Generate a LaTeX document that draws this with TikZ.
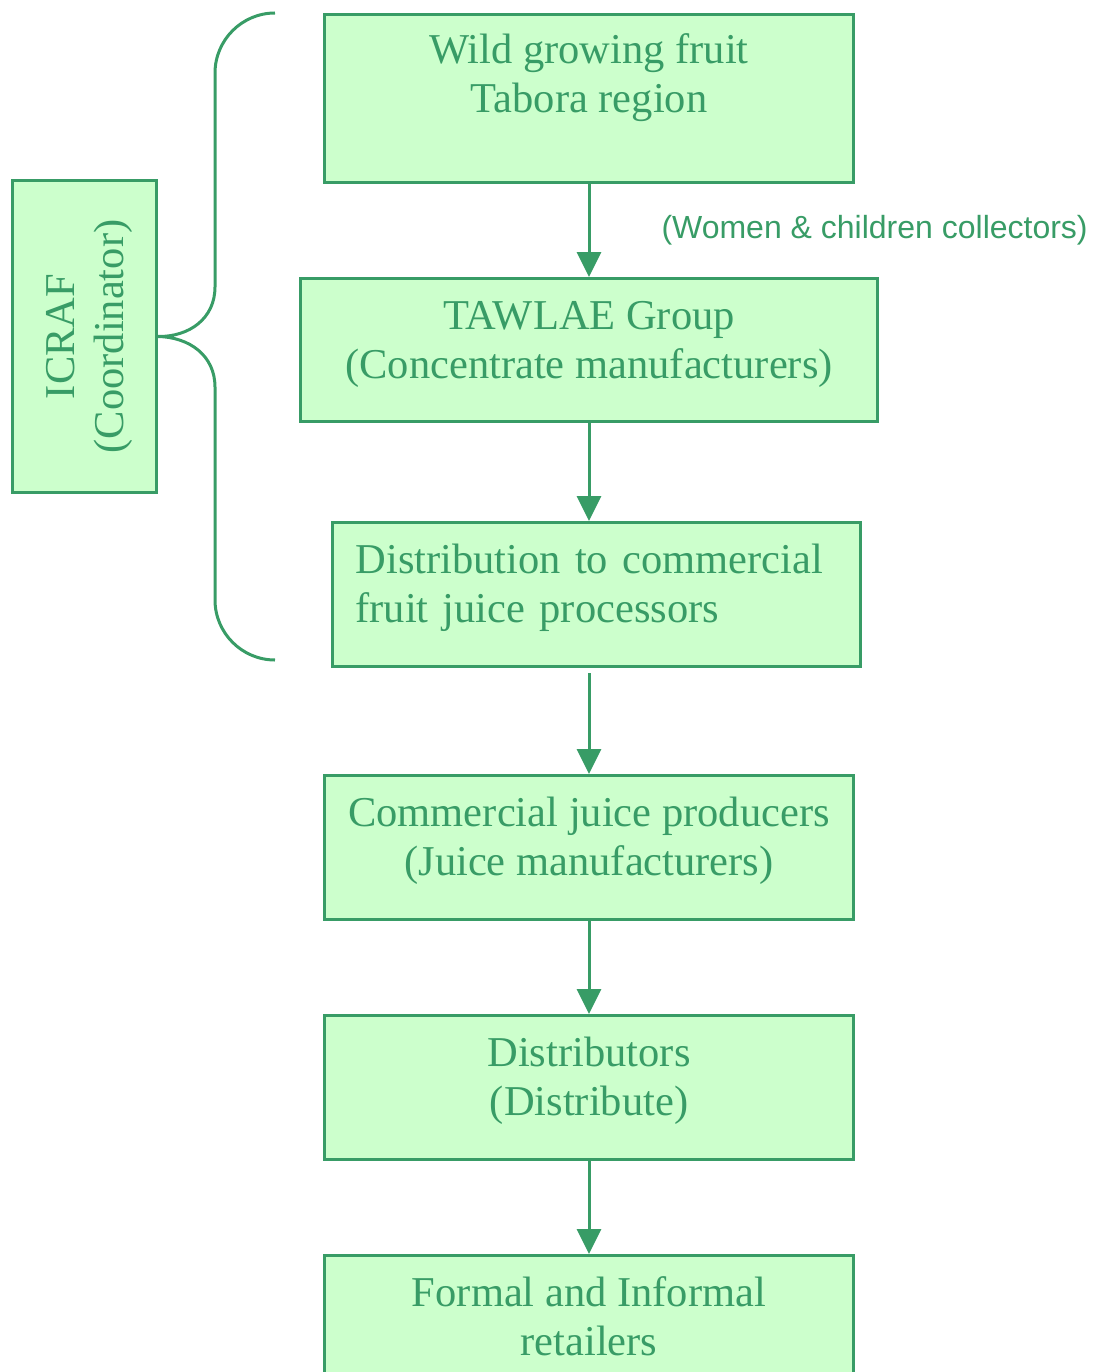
\documentclass[tikz,border=0pt]{standalone}
\usepackage{fontspec}
\setmainfont{Liberation Serif}
\newfontfamily\labelfont{Liberation Sans}
\usetikzlibrary{arrows.meta}
\definecolor{chainline}{HTML}{389C66}
\definecolor{chainfill}{HTML}{CCFFCC}

\begin{document}
\begin{tikzpicture}[x=1pt, y=-1pt, line width=3pt, color=chainline,
  >={Triangle[width=24pt,length=25pt]},
  stage/.style={draw, fill=chainfill, anchor=north west, align=center,
    font=\fontsize{42.5}{49}\selectfont, inner sep=0pt,
    text height=78pt, text depth=22pt}]

  \useasboundingbox (0,0) rectangle (1093,1372);

  \node[stage, minimum width=529pt, minimum height=168pt, text depth=50pt] (wild) at (323,13) {Wild growing fruit\\Tabora region};
  \node[stage, minimum width=577pt, minimum height=143pt] (tawlae) at (299,277) {TAWLAE Group\\(Concentrate manufacturers)};
  \node[stage, minimum width=528pt, minimum height=144pt, align=left,
    text width=482pt, inner xsep=23pt, text height=29pt, text depth=71pt] (dist) at (331,521) {Distribution to commercial\\fruit juice processors};
  \node[stage, minimum width=529pt, minimum height=144pt] (prod) at (323,774) {Commercial juice producers\\(Juice manufacturers)};
  \node[stage, minimum width=529pt, minimum height=144pt] (distr) at (323,1014) {Distributors\\(Distribute)};
  \node[stage, minimum width=529pt, minimum height=144pt] (retail) at (323,1254) {Formal and Informal\\retailers};

  \node[stage, rotate=90, anchor=center, minimum width=311pt, minimum height=144pt,
    text depth=0pt] (icraf) at (84,336.5) {ICRAF\\(Coordinator)};

  %% brace of the coordinator
  \draw (275,13) .. controls (242,13) and (215,40) .. (215,73) -- (215,287)
    .. controls (215,318) and (190,337) .. (icraf.south)
    .. controls (190,337) and (215,356) .. (215,387) -- (215,600)
    .. controls (215,633) and (242,660) .. (275,660);

  \draw[->] (wild) -- node[right, xshift=71pt, inner sep=0pt,
    font=\labelfont\fontsize{32}{38}\selectfont] {(Women \& children collectors)} (tawlae); %% wild->TAWLAE
  \draw[->] (tawlae) -- (dist.north -| tawlae.south); %% TAWLAE->dist
  \draw[->, shorten <=5pt] (dist.south -| prod.north) -- (prod); %% dist->prod
  \draw[->] (prod) -- (distr); %% prod->distr
  \draw[->] (distr) -- (retail); %% distr->retail
\end{tikzpicture}
\end{document}
